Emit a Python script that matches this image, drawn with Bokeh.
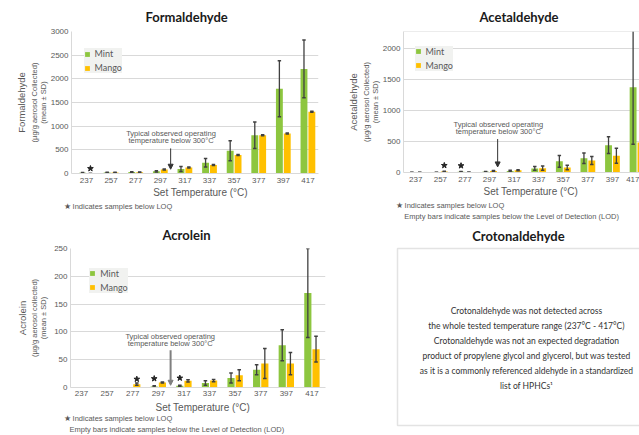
import math
from bokeh.plotting import figure
from bokeh.models import (ColumnDataSource, Label, Legend, LegendItem, FixedTicker,
                          Arrow, NormalHead, Span, Range1d, Title)
from bokeh.layouts import column, row
from bokeh.embed import file_html
from bokeh.resources import INLINE

NaN = float("nan")

# ---------------- data ----------------
temps = [237, 257, 277, 297, 317, 337, 357, 377, 397, 417]

form_mint = [15, 20, 30, 45, 95, 225, 480, 810, 1790, 2210]
form_mint_sd = [8, 8, 8, 15, 55, 90, 210, 280, 590, 610]
form_mango = [0, 20, 25, 85, 125, 180, 390, 810, 845, 1305]
form_mango_sd = [0, 5, 5, 10, 10, 10, 12, 10, 12, 12]
form_mint_loq = [False] * 10
form_mango_loq = [True, False, False, False, False, False, False, False, False, False]

acet_mint = [3, 2, 12, 12, 25, 65, 180, 230, 440, 1375]
acet_mint_sd = [1, 1, 3, 4, 10, 30, 95, 85, 135, 920]
acet_mango = [2, 15, 4, 25, 35, 70, 80, 195, 270, 485]
acet_mango_sd = [1, 4, 1, 6, 8, 35, 35, 65, 120, 100]
acet_mint_loq = [False, False, True, False, False, False, False, False, False, False]
acet_mango_loq = [False, True, False, False, False, False, False, False, False, False]

# NaN = below LOD (empty bar)
acro_mint = [NaN, NaN, NaN, 2, 3, 8, 17, 32, 76, 170]
acro_mint_sd = [NaN, NaN, NaN, 1, 1, 4, 9, 9, 28, 80]
acro_mango = [NaN, NaN, 6, 9, 12, 12.5, 22, 43, 43, 69]
acro_mango_sd = [NaN, NaN, 2, 1, 2, 2, 10, 27, 20, 23]
acro_mint_loq = [False, False, False, True, True, False, False, False, False, False]
acro_mango_loq = [False, False, True, False, False, False, False, False, False, False]

croton_lines = [
    "Crotonaldehyde was not detected across",
    "the whole tested temperature range (237°C - 417°C)",
    "Crotonaldehyde was not an expected degradation",
    "product of propylene glycol and glycerol, but was tested",
    "as it is a commonly referenced aldehyde in a standardized",
    "list of HPHCs\u00b9",
]

# ---------------- styles ----------------
MINT = "#8DC63F"
MANGO = "#FFC000"
ERR = "#404040"
GRID = "#d9d9d9"
TXT = "#595959"
TITLE = "#1a1a1a"
OFF = 0.16
BW = 0.28


def no_align(p):
    try:
        p.frame_align = False
    except AttributeError:
        pass


def lab(p, L, B, px, py, text, size="7.5px", color=TXT, font="Liberation Sans", align="center"):
    p.add_layout(Label(x=px - L, y=B - py, x_units="screen", y_units="screen",
                       text=text, text_font=font, text_font_size=size,
                       text_color=color, text_align=align, text_baseline="middle"))


def side_title(p, place, text, size, offset=0.0, align="left", valign="top", standoff=0,
               font="Liberation Sans", color=TXT, style="normal"):
    p.add_layout(Title(text=text, align=align, offset=offset, vertical_align=valign,
                       standoff=standoff, text_font=font, text_font_size=size,
                       text_color=color, text_font_style=style), place)


def make_fig(w, h, mb, xr, yr, yticks):
    p = figure(width=w, height=h, output_backend="svg", toolbar_location=None,
               title=None, x_range=Range1d(*xr), y_range=Range1d(*yr),
               min_border_left=mb[0], min_border_right=mb[1],
               min_border_top=mb[2], min_border_bottom=mb[3])
    no_align(p)
    p.outline_line_color = None
    p.xgrid.visible = False
    p.ygrid.grid_line_color = GRID
    p.ygrid.ticker = FixedTicker(ticks=yticks)
    p.yaxis.ticker = FixedTicker(ticks=yticks)
    p.xaxis.ticker = FixedTicker(ticks=list(range(len(temps))))
    p.xaxis.major_label_overrides = {i: str(t) for i, t in enumerate(temps)}
    for ax in (p.xaxis, p.yaxis):
        ax.axis_line_color = GRID
        ax.major_tick_line_color = None
        ax.minor_tick_line_color = None
        ax.major_tick_out = 0
        ax.major_tick_in = 0
        ax.minor_tick_out = 0
        ax.minor_tick_in = 0
        ax.major_label_text_font = "Liberation Sans"
        ax.major_label_text_font_size = "8px"
        ax.major_label_text_color = TXT
    p.xaxis.major_label_standoff = 4
    p.yaxis.major_label_standoff = 3
    p.yaxis.axis_label_text_font = "Liberation Sans"
    p.yaxis.axis_label_text_font_size = "7.5px"
    p.yaxis.axis_label_text_font_style = "normal"
    p.yaxis.axis_label_text_color = TXT
    p.yaxis.axis_label_text_line_height = 1.0
    p.yaxis.axis_label_standoff = 0
    return p


def add_series(p, vals, sds, loq, off, color, star_up):
    idx = [i for i, v in enumerate(vals) if not math.isnan(v)]
    xs = [i + off for i in idx]
    v = [vals[i] for i in idx]
    s = [sds[i] for i in idx]
    src = ColumnDataSource(dict(
        x=xs, top=v, up=[a + b for a, b in zip(v, s)], lo=[a - b for a, b in zip(v, s)],
        cl=[x - 0.07 for x in xs], cr=[x + 0.07 for x in xs]))
    r = p.vbar(x="x", top="top", bottom=0, width=BW, source=src,
               fill_color=color, line_color=None)
    p.segment(x0="x", y0="lo", x1="x", y1="up", source=src, line_color=ERR, line_width=1.3)
    p.segment(x0="cl", y0="up", x1="cr", y1="up", source=src, line_color=ERR, line_width=1.5)
    p.segment(x0="cl", y0="lo", x1="cr", y1="lo", source=src, line_color=ERR, line_width=1.5)
    sx = [i + off for i in idx if loq[i]]
    sy = [vals[i] + sds[i] + star_up for i in idx if loq[i]]
    if sx:
        p.scatter(x=sx, y=sy, marker="star", size=6, fill_color="#222222",
                  line_color="#222222")
    return r


def add_legend(p, r1, r2, loc):
    lg = Legend(items=[LegendItem(label="Mint", renderers=[r1]),
                       LegendItem(label="Mango", renderers=[r2])],
                location=loc, background_fill_color="#f1f2f0", background_fill_alpha=1,
                border_line_color=None, padding=9, spacing=3, label_height=10,
                glyph_height=6, glyph_width=6, label_standoff=5, margin=0,
                label_text_font="Lato", label_text_font_size="9px",
                label_text_color=TXT)
    p.add_layout(lg)


STAR = "\u2605 Indicates samples below LOQ"
EMPTY = "Empty bars indicate samples below the Level of Detection (LOD)"
XLAB = "Set Temperature (\u00b0C)"

# ---------------- Formaldehyde ----------------
p1 = make_fig(345, 222, (71, 27, 31, 49), (-0.61, 9.43), (0, 3000),
              [0, 500, 1000, 1500, 2000, 2500, 3000])
p1.yaxis.axis_label = "(\u00b5g/g aerosol Collected)\n(mean \u00b1 SD)"
L, B = 71, 173
a = add_series(p1, form_mint, form_mint_sd, form_mint_loq, -OFF, MINT, 105)
b = add_series(p1, form_mango, form_mango_sd, form_mango_loq, OFF, MANGO, 105)
add_legend(p1, a, b, (12.5, 100))
p1.add_layout(Arrow(end=NormalHead(size=5, fill_color="#333333", line_color="#333333"),
                    x_start=3.42, y_start=530, x_end=3.42, y_end=90,
                    line_color="#333333", line_width=1))
side_title(p1, "above", "Formaldehyde", "13px", offset=74, standoff=9, font="Lato",
           color=TITLE, style="bold")
side_title(p1, "left", "Formaldehyde", "9.5px", align="center", valign="bottom")
side_title(p1, "below", XLAB, "10px", offset=81.7, standoff=2)
side_title(p1, "below", STAR, "7.5px", offset=-8, standoff=2)
lab(p1, L, B, 170.5, 133.3, "Typical observed operating")
lab(p1, L, B, 170.5, 140.3, "temperature below 300\u00b0C")

# ---------------- Acetaldehyde ----------------
p2 = make_fig(294, 222, (56, 0, 31, 48), (-0.5, 9.1), (0, 2275), [0, 500, 1000, 1500, 2000])
p2.yaxis.axis_label = "(\u00b5g/g aerosol Collected)\n(mean \u00b1 SD)"
p2.add_layout(Span(location=2275, dimension="width", line_color=GRID, line_width=1))
L, B = 401, 174
a = add_series(p2, acet_mint, acet_mint_sd, acet_mint_loq, -OFF, MINT, 95)
b = add_series(p2, acet_mango, acet_mango_sd, acet_mango_loq, OFF, MANGO, 95)
add_legend(p2, a, b, (11.5, 101.5))
p2.add_layout(Arrow(end=NormalHead(size=5, fill_color="#333333", line_color="#333333"),
                    x_start=3.33, y_start=540, x_end=3.33, y_end=90,
                    line_color="#333333", line_width=1))
side_title(p2, "above", "Acetaldehyde", "13px", offset=76, standoff=9, font="Lato",
           color=TITLE, style="bold")
side_title(p2, "left", "Acetaldehyde", "9.5px", align="center", valign="bottom")
side_title(p2, "below", XLAB, "10px", offset=80, standoff=2.5)
side_title(p2, "below", STAR, "7.5px", offset=-8)
side_title(p2, "below", EMPTY, "7.5px", offset=0.7)
lab(p2, L, B, 495.8, 126, "Typical observed operating")
lab(p2, L, B, 495.8, 133.3, "temperature below 300\u00b0C")

# ---------------- Acrolein ----------------
p3 = make_fig(345, 213, (70, 20, 26, 48), (-0.43, 9.53), (0, 250), [0, 50, 100, 150, 200, 250])
p3.yaxis.axis_label = "(\u00b5g/g aerosol collected)\n(mean \u00b1 SD)"
p3.yaxis.axis_label_standoff = 3
p3.xaxis.major_label_standoff = 3
L, B = 70, 387
a = add_series(p3, acro_mint, acro_mint_sd, acro_mint_loq, -OFF, MINT, 13)
b = add_series(p3, acro_mango, acro_mango_sd, acro_mango_loq, OFF, MANGO, 7)
add_legend(p3, a, b, (19.3, 94.2))
p3.add_layout(Arrow(end=NormalHead(size=5, fill_color="#7f7f7f", line_color="#7f7f7f"),
                    x_start=3.48, y_start=67, x_end=3.48, y_end=4,
                    line_color="#7f7f7f", line_width=2))
side_title(p3, "above", "Acrolein", "13px", offset=92, standoff=8, font="Lato",
           color=TITLE, style="bold")
side_title(p3, "left", "Acrolein", "9.5px", align="center", valign="bottom")
side_title(p3, "below", XLAB, "10px", offset=85, valign="bottom", standoff=2)
side_title(p3, "below", STAR, "7.5px", offset=-7)
side_title(p3, "below", EMPTY, "7.5px", offset=-1)
lab(p3, L, B, 169.7, 336, "Typical observed operating")
lab(p3, L, B, 169.7, 343.3, "temperature below 300\u00b0C")

# ---------------- Crotonaldehyde ----------------
p4 = figure(width=294, height=213, output_backend="svg", toolbar_location=None, title=None,
            x_axis_type=None, y_axis_type=None,
            x_range=Range1d(0, 245), y_range=Range1d(0, 189),
            min_border_left=49, min_border_right=0, min_border_top=24, min_border_bottom=0)
no_align(p4)
p4.grid.visible = False
p4.outline_line_color = None
p4.quad(left=[3], right=[400], bottom=[10], top=[187], fill_color="white",
        line_color="#e3e3e3", line_width=1.5)
side_title(p4, "above", "Crotonaldehyde", "13px", offset=77.7, standoff=2, font="Lato",
           color=TITLE, style="bold")
L, B = 394, 435
for k, t in enumerate(croton_lines):
    lab(p4, L, B, 526, 310.3 + 15.1 * k, t, size="8.5px", color="#333333", font="Lato")

layout = column(row(p1, p2), row(p3, p4))
open("out.html", "w").write(file_html(layout, INLINE))
